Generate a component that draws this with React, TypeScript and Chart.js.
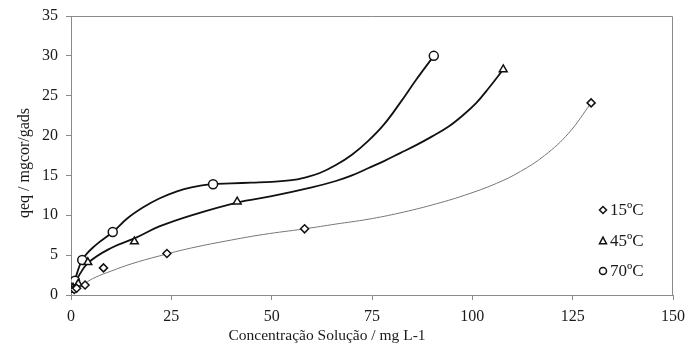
import React, { useEffect, useRef } from "react";
import { Chart, registerables } from "chart.js";

Chart.register(...registerables);

// ---- data ----
const seriesNames = ["15ºC", "45ºC", "70ºC"];

const pts15X = [0.8, 1.4, 3.5, 8.1, 23.9, 58.2, 129.6];
const pts15Y = [0.7, 0.85, 1.25, 3.4, 5.2, 8.3, 24.1];
const pts45X = [0.5, 1.8, 4.2, 15.8, 41.4, 107.7];
const pts45Y = [0.9, 1.4, 4.1, 6.7, 11.7, 28.3];
const pts70X = [0.4, 1.0, 2.8, 10.4, 35.4, 90.4];
const pts70Y = [0.9, 1.8, 4.4, 7.9, 13.9, 30.0];

// trend curves
const curve15X = [0.5, 1.4, 3.5, 6, 10, 15, 22, 30, 40, 48, 58.2, 66, 74, 82, 90, 98, 106, 112, 118, 124, 129.6];
const curve15Y = [0.6, 0.9, 1.5, 2.2, 3.0, 3.9, 4.9, 5.9, 6.9, 7.6, 8.3, 8.9, 9.5, 10.3, 11.3, 12.5, 14.0, 15.5, 17.5, 20.3, 24.1];
const curve45X = [0.3, 1.5, 4.2, 10, 15.8, 22, 30, 41.4, 50, 60, 66, 70, 74, 78, 82, 86, 90, 94, 98, 101, 104, 107.7];
const curve45Y = [0.8, 2.0, 4.0, 5.9, 7.1, 8.6, 10.0, 11.6, 12.4, 13.5, 14.3, 15.0, 15.9, 16.8, 17.8, 18.8, 19.9, 21.1, 22.7, 24.1, 25.9, 28.3];
const curve70X = [0.4, 1, 2.8, 6, 10.4, 14, 18, 22, 26.4, 30, 35, 40, 45, 50, 55, 58, 62, 66, 70, 74, 78, 82, 86, 90.4];
const curve70Y = [0.9, 1.9, 4.4, 6.2, 7.9, 9.6, 11.0, 12.1, 13.0, 13.5, 13.9, 14.0, 14.1, 14.2, 14.4, 14.7, 15.3, 16.3, 17.6, 19.3, 21.4, 24.1, 27.0, 30.0];

const xTickValues = [0, 25, 50, 75, 100, 125, 150];
const yTickValues = [0, 5, 10, 15, 20, 25, 30, 35];

const xTitle = "Concentração Solução / mg L-1";
const yTitle = "qeq / mgcor/gads";

const FONT = "'Liberation Serif', 'Times New Roman', serif";

const zip = (xs: number[], ys: number[]) => xs.map((x, i) => ({ x, y: ys[i] }));

function drawMarker(ctx: CanvasRenderingContext2D, kind: string, x: number, y: number, r: number) {
  ctx.beginPath();
  if (kind === "rectRot") {
    ctx.moveTo(x, y - r);
    ctx.lineTo(x + r, y);
    ctx.lineTo(x, y + r);
    ctx.lineTo(x - r, y);
    ctx.closePath();
  } else if (kind === "triangle") {
    ctx.moveTo(x, y - r * 1.1);
    ctx.lineTo(x + r, y + r * 0.75);
    ctx.lineTo(x - r, y + r * 0.75);
    ctx.closePath();
  } else {
    ctx.arc(x, y, r, 0, Math.PI * 2);
  }
  ctx.fillStyle = "#fff";
  ctx.fill();
  ctx.stroke();
}

const decorPlugin = {
  id: "decor",
  afterDraw(chart: any) {
    const { ctx, chartArea } = chart;
    const { left, top, right, bottom } = chartArea;
    ctx.save();
    // box top and right
    ctx.strokeStyle = "#8a8a8a";
    ctx.lineWidth = 1;
    ctx.beginPath();
    ctx.moveTo(left, top + 0.5);
    ctx.lineTo(right - 0.5, top + 0.5);
    ctx.lineTo(right - 0.5, bottom);
    ctx.stroke();

    // axis titles
    ctx.fillStyle = "#1a1a1a";
    ctx.textAlign = "center";
    ctx.textBaseline = "middle";
    ctx.font = `15.5px ${FONT}`;
    ctx.fillText(xTitle, 327, 336);
    ctx.save();
    ctx.translate(25, 163);
    ctx.rotate(-Math.PI / 2);
    ctx.font = `16px ${FONT}`;
    ctx.fillText(yTitle, 0, 0);
    ctx.restore();

    // legend
    const kinds = ["rectRot", "triangle", "circle"];
    const ys = [210, 241, 271];
    ctx.textAlign = "left";
    ctx.font = `17px ${FONT}`;
    seriesNames.forEach((name, i) => {
      ctx.strokeStyle = "#111";
      ctx.lineWidth = 1.5;
      drawMarker(ctx, kinds[i], 603, ys[i], 3.5);
      ctx.fillStyle = "#1a1a1a";
      ctx.fillText(name, 610, ys[i] + 1);
    });
    ctx.restore();
  },
};

export default function App() {
  const ref = useRef<HTMLCanvasElement | null>(null);
  useEffect(() => {
    if (!ref.current) return;
    const pointDs = (label: string, xs: number[], ys: number[], style: string, r: number) => ({
      label,
      data: zip(xs, ys),
      showLine: false,
      pointStyle: style,
      pointRadius: r,
      pointBorderWidth: 1.5,
      pointBorderColor: "#111",
      pointBackgroundColor: "#fff",
      order: 0,
    });
    const curveDs = (label: string, xs: number[], ys: number[], color: string, w: number) => ({
      label,
      data: zip(xs, ys),
      showLine: true,
      pointRadius: 0,
      borderColor: color,
      borderWidth: w,
      tension: 0.4,
      fill: false,
      order: 1,
    });
    const chart = new Chart(ref.current, {
      type: "scatter",
      data: {
        datasets: [
          pointDs(seriesNames[0], pts15X, pts15Y, "rectRot", 4),
          pointDs(seriesNames[1], pts45X, pts45Y, "triangle", 4.5),
          pointDs(seriesNames[2], pts70X, pts70Y, "circle", 4.5),
          curveDs("c15", curve15X, curve15Y, "#777", 1),
          curveDs("c45", curve45X, curve45Y, "#111", 1.8),
          curveDs("c70", curve70X, curve70Y, "#111", 1.8),
        ] as any,
      },
      options: {
        animation: false,
        responsive: false,
        maintainAspectRatio: false,
        layout: { padding: { left: 0, top: 16, right: 13, bottom: 0 } },
        plugins: { legend: { display: false }, tooltip: { enabled: false } },
        scales: {
          x: {
            type: "linear",
            min: 0,
            max: 150,
            afterFit: (s: any) => { s.height = 61; s.paddingLeft = 0; s.paddingRight = 0; },
            afterBuildTicks: (s: any) => { s.ticks = xTickValues.map((v) => ({ value: v })); },
            grid: { drawOnChartArea: false, drawTicks: true, tickLength: 5, color: "#8a8a8a" },
            border: { display: true, color: "#8a8a8a", width: 1 },
            ticks: { padding: 7, color: "#1a1a1a", font: { family: FONT, size: 16 } },
          },
          y: {
            type: "linear",
            min: 0,
            max: 35,
            afterFit: (s: any) => { s.width = 71; s.paddingTop = 0; s.paddingBottom = 0; },
            afterBuildTicks: (s: any) => { s.ticks = yTickValues.map((v) => ({ value: v })); },
            grid: { drawOnChartArea: false, drawTicks: true, tickLength: 5, color: "#8a8a8a" },
            border: { display: true, color: "#8a8a8a", width: 1 },
            ticks: { padding: 8, color: "#1a1a1a", font: { family: FONT, size: 16 } },
          },
        },
      },
      plugins: [decorPlugin],
    });
    return () => chart.destroy();
  }, []);
  return (
    <div style={{ position: "fixed", left: 0, top: 0, width: 686, height: 356, background: "#fff" }}>
      <canvas ref={ref} width={686} height={356} style={{ width: 686, height: 356 }} />
    </div>
  );
}
